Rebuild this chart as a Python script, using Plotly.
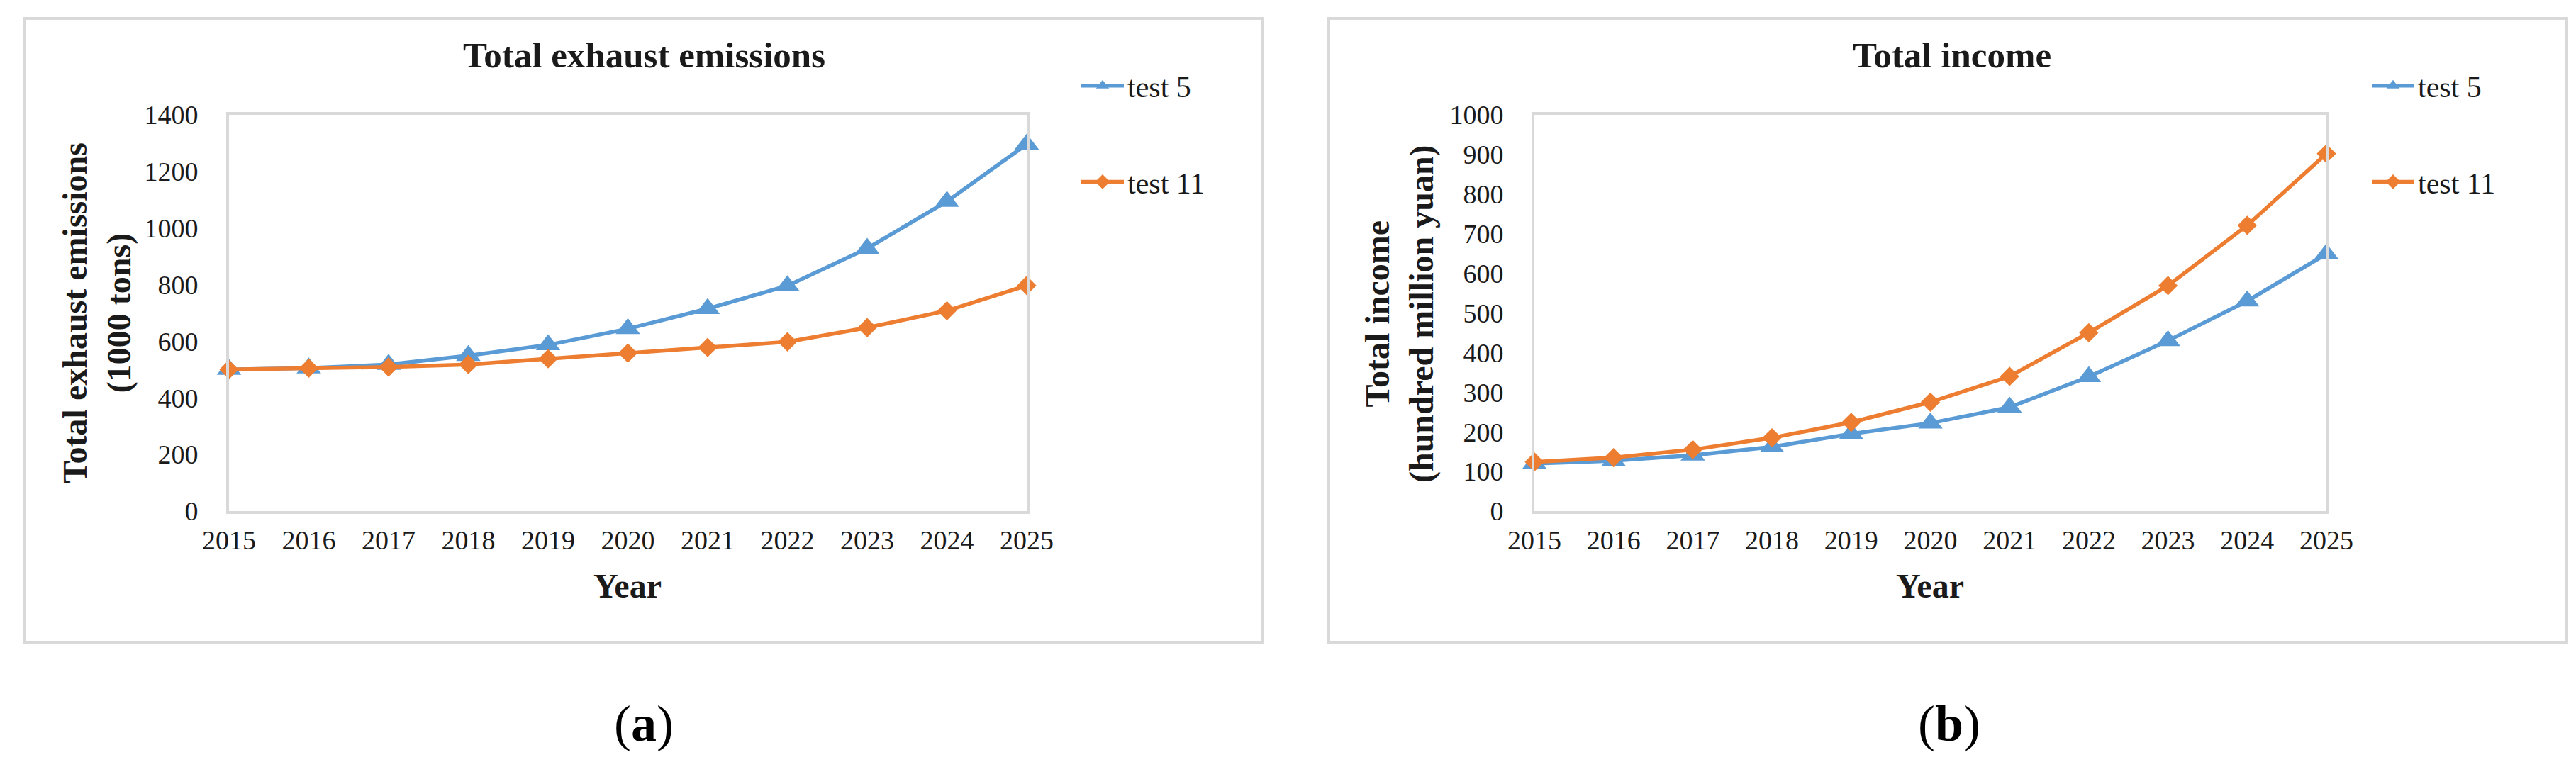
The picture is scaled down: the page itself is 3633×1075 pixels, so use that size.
import plotly.graph_objects as go

W, H = 3633, 1075

years = [2015, 2016, 2017, 2018, 2019, 2020, 2021, 2022, 2023, 2024, 2025]
series_names = ["test 5", "test 11"]

# (a) Total exhaust emissions (1000 tons)
emis_test5 = [500, 505, 518, 549, 587, 644, 715, 796, 928, 1094, 1296]
emis_test11 = [500, 505, 509, 518, 538, 558, 578, 598, 648, 708, 797]

# (b) Total income (hundred million yuan)
inc_test5 = [120, 127, 141, 162, 195, 222, 262, 339, 430, 530, 649]
inc_test11 = [124, 135, 155, 185, 224, 275, 340, 450, 569, 721, 902]

y_ticks_a = [0, 200, 400, 600, 800, 1000, 1200, 1400]
y_ticks_b = [0, 100, 200, 300, 400, 500, 600, 700, 800, 900, 1000]

BLUE = "#5B9BD5"
ORANGE = "#ED7D31"
GRID = "#D9D9D9"
FONT = "Liberation Serif"
TXT = "#1a1a1a"


def px_x(p):
    return p / W


def px_y(p):
    return 1 - p / H


fig = go.Figure()

styles = [
    dict(color=BLUE, symbol="triangle-up", size=30),
    dict(color=ORANGE, symbol="diamond", size=21),
]

for xa, ya, leg, data in [
    ("x", "y", "legend", [emis_test5, emis_test11]),
    ("x2", "y2", "legend2", [inc_test5, inc_test11]),
]:
    for name, vals, st in zip(series_names, data, styles):
        fig.add_trace(go.Scatter(
            x=years, y=vals, name=name, mode="lines+markers",
            xaxis=xa, yaxis=ya, legend=leg, legendgroup=leg + name,
            line=dict(color=st["color"], width=5.5),
            marker=dict(color=st["color"], symbol=st["symbol"], size=st["size"]),
            cliponaxis=False, showlegend=True,
        ))

axis_common = dict(
    showgrid=False, zeroline=False, showline=True, mirror=True,
    linecolor=GRID, linewidth=4, ticks="", automargin=False,
    tickfont=dict(family=FONT, size=38, color=TXT),
    fixedrange=True,
)

ydom = [px_y(713), px_y(154)]

legend_common = dict(
    xref="container", yref="container", xanchor="left", yanchor="top",
    font=dict(family=FONT, size=42, color=TXT),
    tracegroupgap=78, bgcolor="rgba(0,0,0,0)", itemwidth=60,
)

fig.update_layout(
    width=W, height=H,
    margin=dict(l=0, r=0, t=0, b=0, autoexpand=False),
    paper_bgcolor="white", plot_bgcolor="white",
    font=dict(family=FONT, color=TXT),
    xaxis=dict(domain=[px_x(315), px_x(1440)], range=[2015, 2025],
               tickvals=years, ticklabelstandoff=4, anchor="y", **axis_common),
    yaxis=dict(domain=ydom, range=[0, 1400], tickvals=y_ticks_a,
               ticklabelstandoff=32, anchor="x", **axis_common),
    xaxis2=dict(domain=[px_x(2156), px_x(3273)], range=[2015, 2025],
                tickvals=years, ticklabelstandoff=4, anchor="y2", **axis_common),
    yaxis2=dict(domain=ydom, range=[0, 1000], tickvals=y_ticks_b,
                ticklabelstandoff=32, anchor="x2", **axis_common),
    legend=dict(x=px_x(1512), y=px_y(79), **legend_common),
    legend2=dict(x=px_x(3332), y=px_y(79), **legend_common),
)

# chart-area borders
for x0, x1 in [(27, 1772), (1866, 3612)]:
    fig.add_shape(type="rect", xref="paper", yref="paper",
                  x0=px_x(x0), x1=px_x(x1), y0=px_y(899), y1=px_y(18),
                  line=dict(color=GRID, width=4), fillcolor="rgba(0,0,0,0)")

ann = []
# chart titles
ann.append(dict(text="<b>Total exhaust emissions</b>", x=px_x(900), y=px_y(70)))
ann.append(dict(text="<b>Total income</b>", x=px_x(2745), y=px_y(70)))
for a in ann:
    a.update(font=dict(family=FONT, size=51, color=TXT))
# x-axis titles
for cx in [877, 2714]:
    ann.append(dict(text="<b>Year</b>", x=px_x(cx), y=px_y(818),
                    font=dict(family=FONT, size=48, color=TXT)))
# y-axis titles
ann.append(dict(text="<b>Total exhaust emissions<br>(1000 tons)</b>", x=px_x(129), y=px_y(434),
                textangle=-90, font=dict(family=FONT, size=48, color=TXT)))
ann.append(dict(text="<b>Total income<br>(hundred million yuan)</b>", x=px_x(1966), y=px_y(434),
                textangle=-90, font=dict(family=FONT, size=48, color=TXT)))
# panel labels
ann.append(dict(text="(<b>a</b>)", x=px_x(900), y=px_y(1013),
                font=dict(family=FONT, size=72, color="#000000")))
ann.append(dict(text="(<b>b</b>)", x=px_x(2741), y=px_y(1013),
                font=dict(family=FONT, size=72, color="#000000")))

for a in ann:
    a.update(xref="paper", yref="paper", showarrow=False, xanchor="center", yanchor="middle")
    fig.add_annotation(**a)

fig.write_html("out.html")
